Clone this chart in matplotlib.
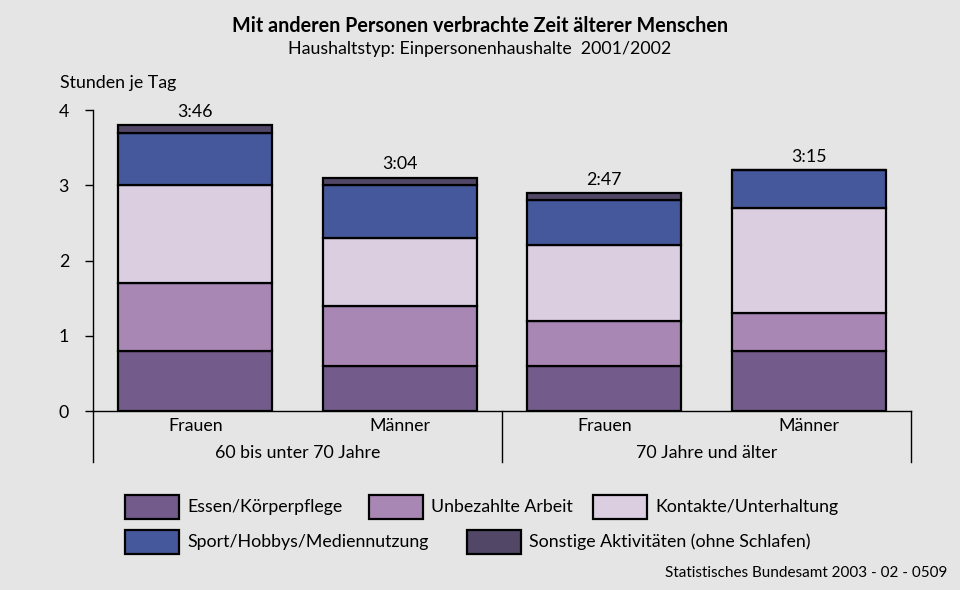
import numpy as np
import matplotlib
matplotlib.use("Agg")
import matplotlib.pyplot as plt
from matplotlib.patches import Rectangle
from matplotlib.lines import Line2D

plt.rcParams["font.family"] = ["Lato", "DejaVu Sans"]

# Hours per day, stacked from bottom to top
categories = ["Frauen", "Männer", "Frauen", "Männer"]
groups = ["60 bis unter 70 Jahre", "70 Jahre und älter"]
series = [
    "Essen/Körperpflege",
    "Unbezahlte Arbeit",
    "Kontakte/Unterhaltung",
    "Sport/Hobbys/Mediennutzung",
    "Sonstige Aktivitäten (ohne Schlafen)",
]
essen = [0.8, 0.6, 0.6, 0.8]
arbeit = [0.9, 0.8, 0.6, 0.5]
kontakte = [1.3, 0.9, 1.0, 1.4]
sport = [0.7, 0.7, 0.6, 0.5]
sonstige = [0.1, 0.1, 0.1, 0.0]
totals = ["3:46", "3:04", "2:47", "3:15"]

colors = ["#735c8b", "#a987b5", "#dbcee1", "#45589b", "#524766"]
bg = "#e5e5e5"
fs = 12.8

fig = plt.figure(figsize=(9.6, 5.9), dpi=100, facecolor=bg)
ax = fig.add_axes([93 / 960, 1 - 411 / 590, 818 / 960, 301 / 590], facecolor=bg)

x = np.arange(len(categories))
width = 0.755
bottom = np.zeros(len(categories))
for vals, col in zip([essen, arbeit, kontakte, sport, sonstige], colors):
    vals = np.array(vals)
    ax.bar(x, vals, width, bottom=bottom, color=col, edgecolor="black",
           linewidth=1.6, zorder=3)
    bottom += vals

for xi, top, lab in zip(x, bottom, totals):
    ax.text(xi, top + 0.07, lab, ha="center", va="bottom", fontsize=fs)

ax.set_xlim(-0.5, 3.5)
ax.set_ylim(0, 4)
ax.set_yticks([0, 1, 2, 3, 4])
ax.set_xticks([])
ax.tick_params(axis="y", length=6, width=1, labelsize=fs, pad=15)
for lbl in ax.get_yticklabels():
    lbl.set_horizontalalignment("center")
for s in ["top", "right"]:
    ax.spines[s].set_visible(False)
ax.spines["left"].set_linewidth(1)
ax.spines["bottom"].set_linewidth(1)

# category and group labels under the axis
for xi, lab in zip(x, categories):
    ax.text(xi, -0.2, lab, ha="center", va="center", fontsize=fs)
trans = ax.get_xaxis_transform()
for xg, lab in zip([0.5, 2.5], groups):
    ax.text(xg, -0.138, lab, ha="center", va="center", fontsize=fs,
            transform=trans)
for xs in [-0.5, 1.5, 3.5]:
    ax.add_line(Line2D([xs, xs], [0, -0.168], transform=trans, color="black",
                       linewidth=1, clip_on=False))

fig.text(60 / 960, 1 - 83 / 590, "Stunden je Tag", ha="left", va="center",
         fontsize=fs)
fig.text(0.5, 1 - 26 / 590,
         "Mit anderen Personen verbrachte Zeit älterer Menschen",
         ha="center", va="center", fontsize=14.2, fontweight="bold")
fig.text(0.5, 1 - 49 / 590, "Haushaltstyp: Einpersonenhaushalte  2001/2002",
         ha="center", va="center", fontsize=fs)

# legend boxes
legend_pos = [(125, 507), (369, 507), (593, 507), (125, 542), (467, 542)]
for (px, py), lab, col in zip(legend_pos, series, colors):
    fig.patches.append(Rectangle((px / 960, 1 - (py + 12) / 590), 54 / 960,
                                 24 / 590, transform=fig.transFigure,
                                 facecolor=col, edgecolor="black",
                                 linewidth=1.6))
    fig.text((px + 62) / 960, 1 - py / 590, lab, ha="left", va="center",
             fontsize=fs)

fig.text(947 / 960, 1 - 573 / 590, "Statistisches Bundesamt 2003 - 02 - 0509",
         ha="right", va="center", fontsize=11)

fig.savefig("out.png", dpi=100, facecolor=bg)
